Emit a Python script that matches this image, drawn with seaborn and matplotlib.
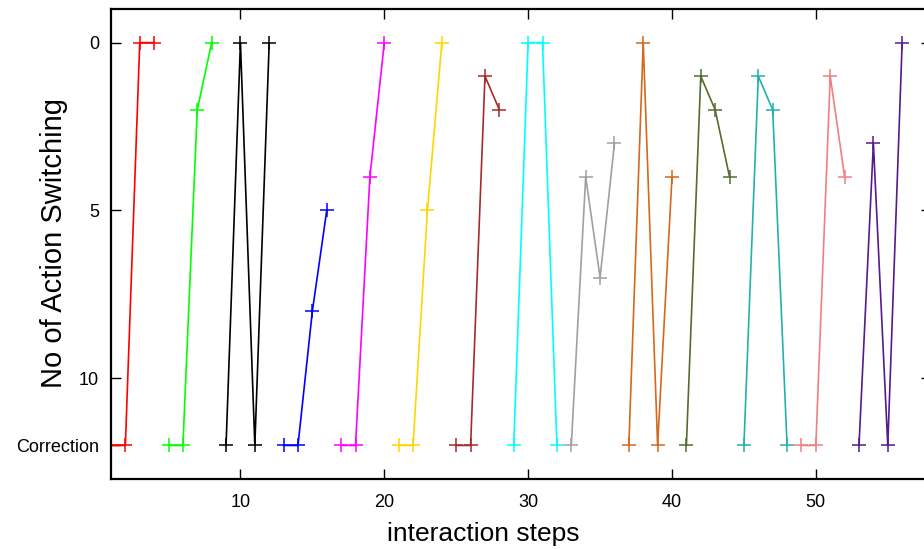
import numpy as np
import pandas as pd
import matplotlib
matplotlib.use("Agg")
import matplotlib.pyplot as plt
import seaborn as sns

# 12 on the y axis stands for "Correction"
CORR = 12

steps_red = [1, 2, 3, 4]
vals_red = [CORR, CORR, 0, 0]
steps_green = [5, 6, 7, 8]
vals_green = [CORR, CORR, 2, 0]
steps_black = [9, 10, 11, 12]
vals_black = [CORR, 0, CORR, 0]
steps_blue = [13, 14, 15, 16]
vals_blue = [CORR, CORR, 8, 5]
steps_magenta = [17, 18, 19, 20]
vals_magenta = [CORR, CORR, 4, 0]
steps_gold = [21, 22, 23, 24]
vals_gold = [CORR, CORR, 5, 0]
steps_brown = [25, 26, 27, 28]
vals_brown = [CORR, CORR, 1, 2]
steps_cyan = [29, 30, 31, 32]
vals_cyan = [CORR, 0, 0, CORR]
steps_gray = [33, 34, 35, 36]
vals_gray = [CORR, 4, 7, 3]
steps_orange = [37, 38, 39, 40]
vals_orange = [CORR, 0, CORR, 4]
steps_olive = [41, 42, 43, 44]
vals_olive = [CORR, 1, 2, 4]
steps_teal = [45, 46, 47, 48]
vals_teal = [CORR, 1, 2, CORR]
steps_coral = [49, 50, 51, 52]
vals_coral = [CORR, CORR, 1, 4]
steps_purple = [53, 54, 55, 56]
vals_purple = [CORR, 3, CORR, 0]

series_names = ['red', 'green', 'black', 'blue', 'magenta', 'gold', 'brown',
                'cyan', 'gray', 'orange', 'olive', 'teal', 'coral', 'purple']
series_steps = [steps_red, steps_green, steps_black, steps_blue, steps_magenta,
                steps_gold, steps_brown, steps_cyan, steps_gray, steps_orange,
                steps_olive, steps_teal, steps_coral, steps_purple]
series_vals = [vals_red, vals_green, vals_black, vals_blue, vals_magenta,
               vals_gold, vals_brown, vals_cyan, vals_gray, vals_orange,
               vals_olive, vals_teal, vals_coral, vals_purple]
colors = ['#ff0000', '#00ff00', '#000000', '#0000ff', '#ff00ff', '#ffd700',
          '#a52a2a', '#00ffff', '#a0a0a0', '#d2691e', '#556b2f', '#20b2aa',
          '#f08080', '#551a8b']

ytick_vals = [0, 5, 10, CORR]
ytick_labels = ['0', '5', '10', 'Correction']
xtick_vals = [10, 20, 30, 40, 50]

rows = []
for name, st, vl in zip(series_names, series_steps, series_vals):
    for s, v in zip(st, vl):
        rows.append({'series': name, 'step': s, 'switches': v})
df = pd.DataFrame(rows)

sns.set_style('ticks')
plt.rcParams['font.family'] = ['Liberation Sans', 'DejaVu Sans']
plt.rcParams.update({'text.color': 'black', 'axes.edgecolor': 'black',
                     'axes.labelcolor': 'black', 'xtick.color': 'black',
                     'ytick.color': 'black'})

fig = plt.figure(figsize=(9.24, 5.49), dpi=100)
ax = fig.add_axes([0.1201, 0.1275, 0.8874, 0.856])

sns.lineplot(data=df, x='step', y='switches', hue='series', units='series',
             estimator=None, sort=False, palette=dict(zip(series_names, colors)),
             marker='+', markersize=10, linewidth=1.2, legend=False, ax=ax)
# seaborn gives the markers a white edge, use the line colour instead
for line in ax.lines:
    line.set_markeredgecolor(line.get_color())
    line.set_markeredgewidth(1.1)

ax.set_xlim(1, 58)
ax.set_ylim(13, -1)
ax.set_xticks(xtick_vals)
ax.set_yticks(ytick_vals)
ax.set_yticklabels(ytick_labels)
ax.tick_params(axis='both', direction='in', length=7, width=1.0,
               top=True, right=True, labelsize=13, colors='black')
ax.tick_params(axis='y', pad=8.5)
ax.tick_params(axis='x', pad=11)
# no right-hand tick for the Correction row
ax.yaxis.get_major_ticks()[-1].tick2line.set_visible(False)
for sp in ax.spines.values():
    sp.set_linewidth(1.6)
    sp.set_color('black')
ax.set_xlabel('')
ax.set_ylabel('')

fig.text(483 / 924, 1 - 534 / 549, 'interaction steps', fontsize=19,
         ha='center', va='center', color='black')
fig.text(54 / 924, 1 - 243 / 549, 'No of Action Switching', fontsize=21,
         rotation=90, ha='center', va='center', color='black')

fig.savefig('out.png', dpi=100)
